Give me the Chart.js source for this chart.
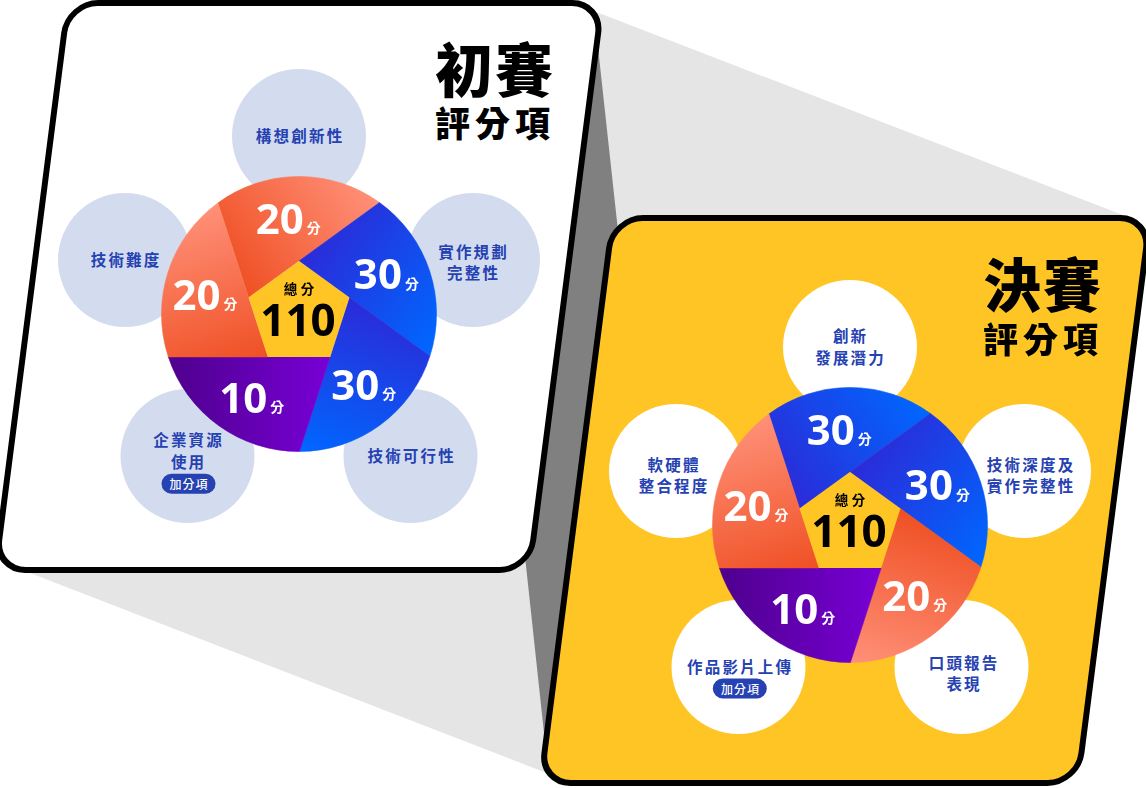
<!DOCTYPE html>
<html>
<head>
<meta charset="utf-8">
<script src="https://cdn.jsdelivr.net/npm/chart.js@4.4.1/dist/chart.umd.min.js"></script>
<style>
  html, body { margin: 0; padding: 0; background: #fff; }
  #stage { position: relative; width: 1146px; height: 788px; overflow: hidden;
           font-family: "Noto Sans CJK TC", "Noto Sans", sans-serif; }
  svg.bg { position: absolute; left: 0; top: 0; }
  canvas.pie { position: absolute; }
  .crit { position: absolute; transform: translate(-50%, -50%); text-align: center;
          color: #2541b2; font-weight: 700; font-size: 15.5px; line-height: 21.5px;
          letter-spacing: 2.2px; padding-left: 2.2px; white-space: nowrap; }
  .badge { display: inline-block; margin-top: 2px; background: #2541b2; color: #fff;
           font-size: 12px; line-height: 19.5px; letter-spacing: 1px; padding: 0 7px 0 8px;
           border-radius: 10px; font-weight: 500; }
  /* Liberation Sans as primary font keeps the line boxes tight; the CJK glyphs fall back */
  .title { position: absolute; left: 0; text-align: right; color: #000; font-weight: 900;
           white-space: nowrap; font-family: "Liberation Sans", "Noto Sans CJK TC", sans-serif; }
</style>
</head>
<body>
<div id="stage">
  <svg class="bg" width="1146" height="788" id="bg">
    <polygon points="586,8 1128,217 1100,250 1060,600 575,784 30,573 100,100" fill="#e5e5e5"/>
    <polygon points="595,20 619,240 548,770 520,510" fill="#808080"/>
    <rect x="68.4" y="3" width="534" height="567" rx="30" fill="#ffffff" stroke="#000" stroke-width="6" transform="skewX(-7.3)"/>
    <rect x="640.9" y="218" width="537" height="565" rx="30" fill="#fec524" stroke="#000" stroke-width="6" transform="skewX(-7.3)"/>
  </svg>
</div>

<script>
// ----------------------------
// Data
// ----------------------------
const prelimTitle = ['初賽', '評分項'];
const finalTitle = ['決賽', '評分項'];

// order: top, upper right, lower right, lower left, upper left
const prelimCriteria = [['構想創新性'], ['實作規劃', '完整性'], ['技術可行性'], ['企業資源', '使用'], ['技術難度']];
const prelimScores = [20, 30, 30, 10, 20];
const prelimBonus = [false, false, false, true, false];

const finalCriteria = [['創新', '發展潛力'], ['技術深度及', '實作完整性'], ['口頭報告', '表現'], ['作品影片上傳'], ['軟硬體', '整合程度']];
const finalScores = [30, 30, 20, 10, 20];
const finalBonus = [false, false, false, true, false];

// every wedge spans the same angle in the picture
const sliceDegrees = [72, 72, 72, 72, 72];

const totalLabel = '總分';
const unitLabel = '分';
const bonusLabel = '加分項';

// ----------------------------
// Layout / style
// ----------------------------
const PIE_R = 137.5;
const PENT_R = 53;
const LABEL_R = 96;
const LABEL_SHIFT = 6.3 * Math.PI / 180;
const BUBBLE_R = 67;
const BUBBLE_OFFSETS = [[0, -178], [174, -54], [111.5, 142], [-111.5, 142], [-174, -54]];

const TONES = {
  orange: ['#ef5024', '#ff9078'],
  blue: ['#2b2bd8', '#0067ff'],
  purple: ['#7800d6', '#4e008d']
};
const toneByScore = { 10: 'purple', 20: 'orange', 30: 'blue' };

const CARDS = [
  {
    id: 'prelimPie', center: [299, 314], bubbleFill: '#d3dcef',
    criteria: prelimCriteria, scores: prelimScores, bonus: prelimBonus, title: prelimTitle,
    textCenters: [[299, 136], [472.5, 261.5], [410.6, 456], [187.5, 461], [125, 260]],
    titleRight: 555, titleTops: [43.4, 107.2]
  },
  {
    id: 'finalPie', center: [850, 525], bubbleFill: '#ffffff',
    criteria: finalCriteria, scores: finalScores, bonus: finalBonus, title: finalTitle,
    textCenters: [[849.5, 346], [1030, 474.5], [963, 672.5], [739, 676.5], [673, 474.5]],
    titleRight: 1103, titleTops: [257.6, 322.7]
  }
];

// angle between a pentagon vertex and the point where its pinwheel edge meets the rim
const pinwheelOffset = (rp, R) => {
  const step = 2 * Math.PI / 5;
  const v0 = { x: 0, y: -rp };
  const v4 = { x: rp * Math.cos(-Math.PI / 2 - step), y: rp * Math.sin(-Math.PI / 2 - step) };
  let ux = v0.x - v4.x, uy = v0.y - v4.y;
  const len = Math.hypot(ux, uy); ux /= len; uy /= len;
  const b = v0.x * ux + v0.y * uy;
  const t = -b + Math.sqrt(b * b - (rp * rp - R * R));
  return Math.atan2(v0.y + t * uy, v0.x + t * ux) + Math.PI / 2;
};
const OFFSET = pinwheelOffset(PENT_R, PIE_R);

// ----------------------------
// Pinwheel drawing plugin
// ----------------------------
const pinwheelPlugin = {
  id: 'pinwheel',
  beforeDatasetsDraw(chart) {
    const ctx = chart.ctx;
    const meta = chart.getDatasetMeta(0);
    const scores = chart.data.datasets[0].scores;
    let cx = 0, cy = 0;

    meta.data.forEach((arc, i) => {
      const { x, y, startAngle, endAngle, outerRadius } =
        arc.getProps(['x', 'y', 'startAngle', 'endAngle', 'outerRadius'], true);
      cx = x; cy = y;
      const va = startAngle - OFFSET;
      const vx = x + PENT_R * Math.cos(va), vy = y + PENT_R * Math.sin(va);
      const ex = x + outerRadius * Math.cos(endAngle), ey = y + outerRadius * Math.sin(endAngle);
      const stops = TONES[toneByScore[scores[i]]];
      const grad = ctx.createLinearGradient(vx, vy, ex, ey);
      grad.addColorStop(0, stops[0]);
      grad.addColorStop(1, stops[1]);

      ctx.save();
      ctx.beginPath();
      ctx.moveTo(vx, vy);
      ctx.lineTo(x + outerRadius * Math.cos(startAngle), y + outerRadius * Math.sin(startAngle));
      ctx.arc(x, y, outerRadius, startAngle, endAngle);
      ctx.closePath();
      ctx.fillStyle = grad;
      ctx.strokeStyle = grad;
      ctx.lineWidth = 0.6;
      ctx.fill();
      ctx.stroke();
      ctx.restore();
    });

    // center pentagon
    ctx.save();
    ctx.beginPath();
    for (let k = 0; k < 5; k++) {
      const a = -Math.PI / 2 + k * 2 * Math.PI / 5;
      const px = cx + PENT_R * Math.cos(a), py = cy + PENT_R * Math.sin(a);
      k === 0 ? ctx.moveTo(px, py) : ctx.lineTo(px, py);
    }
    ctx.closePath();
    ctx.fillStyle = '#fec524';
    ctx.fill();

    ctx.fillStyle = '#000';
    ctx.textAlign = 'center';
    ctx.textBaseline = 'middle';
    ctx.font = 'bold 13.5px "Noto Sans CJK TC"';
    ctx.fillText(totalLabel[0], cx - 8.5, cy - 25);
    ctx.fillText(totalLabel[1], cx + 8.5, cy - 25);
    ctx.font = 'bold 44px "Noto Sans", "Noto Sans CJK TC"';
    ctx.textBaseline = 'alphabetic';
    const total = scores.reduce((a, b) => a + b, 0);
    ctx.fillText(String(total), cx - 1, cy + 6 + 16);

    // slice score labels
    meta.data.forEach((arc, i) => {
      const { startAngle, endAngle } = arc.getProps(['startAngle', 'endAngle'], true);
      const mid = (startAngle + endAngle) / 2 - LABEL_SHIFT;
      const gx = cx + LABEL_R * Math.cos(mid), gy = cy + LABEL_R * Math.sin(mid);
      const num = String(scores[i]);
      ctx.font = 'bold 42px "Noto Sans"';
      const wn = ctx.measureText(num).width;
      ctx.font = 'bold 14px "Noto Sans CJK TC"';
      const wu = ctx.measureText(unitLabel).width;
      const left = gx - (wn + 3 + wu) / 2;
      const base = gy + 15;
      ctx.fillStyle = '#fff';
      ctx.textAlign = 'left';
      ctx.font = 'bold 42px "Noto Sans"';
      ctx.fillText(num, left, base);
      ctx.font = 'bold 14px "Noto Sans CJK TC"';
      ctx.fillText(unitLabel, left + wn + 3, base - 0.5);
    });
    ctx.restore();
    return false;
  }
};

// ----------------------------
// Build page
// ----------------------------
const stage = document.getElementById('stage');
const svg = document.getElementById('bg');
const SVGNS = 'http://www.w3.org/2000/svg';

CARDS.forEach(card => {
  const [cx, cy] = card.center;

  // bubbles behind the pie
  BUBBLE_OFFSETS.forEach(([dx, dy]) => {
    const c = document.createElementNS(SVGNS, 'circle');
    c.setAttribute('cx', cx + dx);
    c.setAttribute('cy', cy + dy);
    c.setAttribute('r', BUBBLE_R);
    c.setAttribute('fill', card.bubbleFill);
    svg.appendChild(c);
  });

  // bubble captions
  card.criteria.forEach((lines, i) => {
    const div = document.createElement('div');
    div.className = 'crit';
    div.style.left = card.textCenters[i][0] + 'px';
    div.style.top = card.textCenters[i][1] + 'px';
    div.innerHTML = lines.join('<br>') + (card.bonus[i] ? `<br><span class="badge">${bonusLabel}</span>` : '');
    stage.appendChild(div);
  });

  // title
  const sizes = [[58, 2], [35, 5]];
  card.title.forEach((txt, i) => {
    const t = document.createElement('div');
    t.className = 'title';
    t.textContent = txt;
    t.style.width = card.titleRight + 'px';
    t.style.top = card.titleTops[i] + 'px';
    t.style.fontSize = sizes[i][0] + 'px';
    t.style.lineHeight = sizes[i][0] + 'px';
    t.style.letterSpacing = sizes[i][1] + 'px';
    stage.appendChild(t);
  });

  // pie canvas
  const canvas = document.createElement('canvas');
  canvas.id = card.id;
  canvas.className = 'pie';
  canvas.width = 300;
  canvas.height = 300;
  canvas.style.left = (cx - 150) + 'px';
  canvas.style.top = (cy - 150) + 'px';
  stage.appendChild(canvas);

  new Chart(canvas.getContext('2d'), {
    type: 'pie',
    data: {
      labels: card.criteria.map(l => l.join('')),
      datasets: [{
        data: sliceDegrees,
        scores: card.scores,
        backgroundColor: card.scores.map(s => TONES[toneByScore[s]][1]),
        borderWidth: 0
      }]
    },
    options: {
      responsive: false,
      animation: false,
      rotation: OFFSET * 180 / Math.PI - 72,
      radius: PIE_R,
      layout: { padding: 0 },
      plugins: { legend: { display: false }, tooltip: { enabled: false } }
    },
    plugins: [pinwheelPlugin]
  });
});
</script>
</body>
</html>
